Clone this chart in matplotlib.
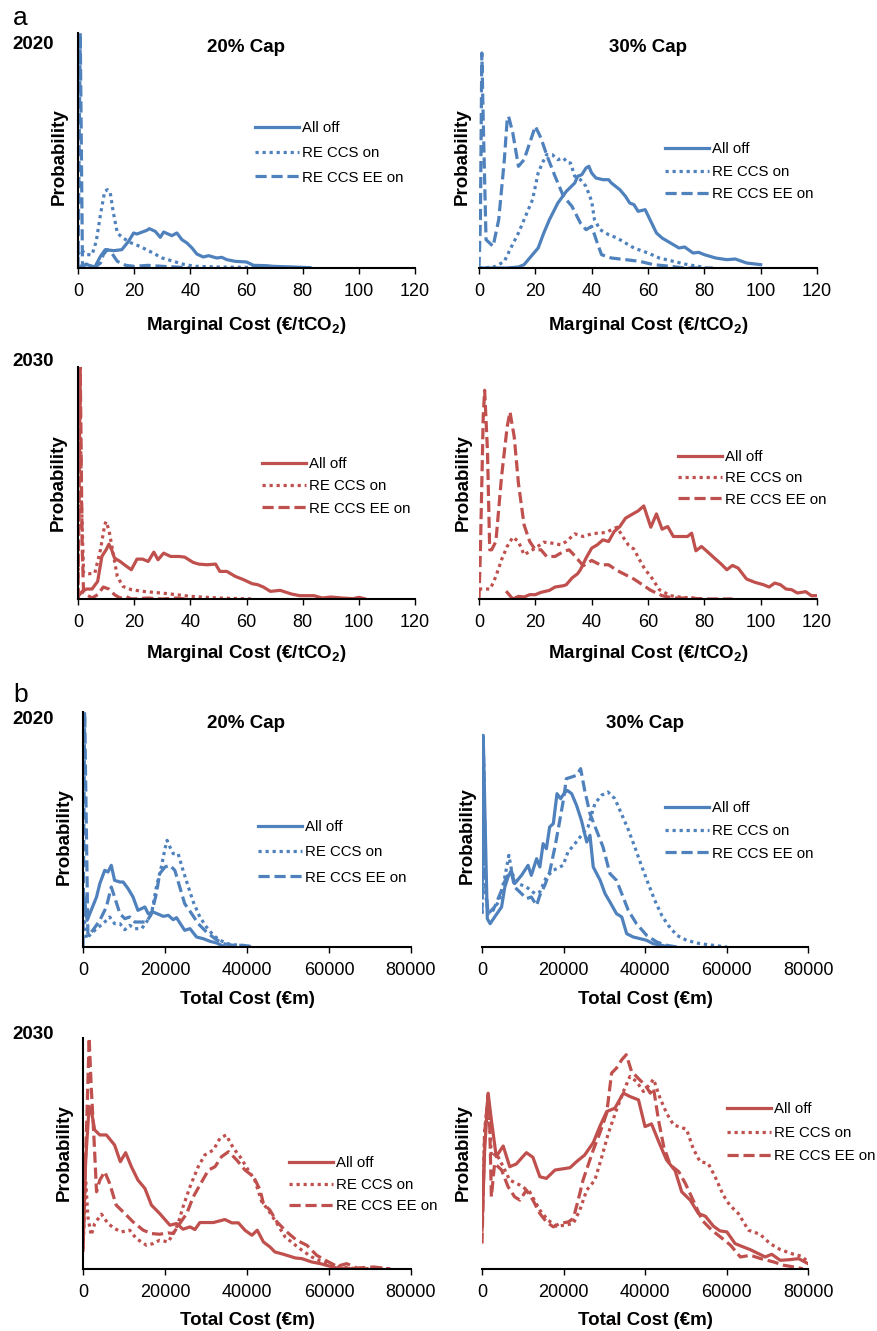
import matplotlib
matplotlib.use('Agg')
import matplotlib.pyplot as plt

plt.rcParams['font.family'] = 'Liberation Sans'
plt.rcParams['mathtext.fontset'] = 'custom'
plt.rcParams['mathtext.rm'] = 'Liberation Sans'
plt.rcParams['mathtext.bf'] = 'Liberation Sans:bold'

BLUE = '#4F81BD'
RED = '#C0504D'
series_names = ['All off', 'RE CCS on', 'RE CCS EE on']

# Probabilities are relative (the y axis has no scale in the source figure)

# ---- (a) Marginal cost, 2020, 20% cap ----
mc_2020_20_off_x = [0, 1.5, 3.2, 6, 8, 9.7, 12.7, 15.6, 18, 19.8, 21, 24.5, 25.4, 27.5, 29.3, 30.5, 33.4, 35.2,
                    37, 38.8, 40.6, 42.3, 44.6, 46.5, 49.4, 51.2, 53, 56, 60, 62.5, 67, 69.6, 76.7, 82.6]
mc_2020_20_off_p = [3, 7, 10, 3, 35, 55, 52, 55, 80, 105, 102, 113, 118, 110, 92, 108, 97, 105,
                    85, 75, 60, 42, 33, 37, 30, 32, 25, 20, 18, 8, 7, 5, 3, 1]
mc_2020_20_ccs_x = [0, 1, 3, 5, 6.5, 8, 9.5, 10.5, 11.5, 12.5, 14, 16, 19, 22, 26, 30, 34, 38, 42, 50, 60, 70]
mc_2020_20_ccs_p = [40, 55, 40, 40, 80, 160, 230, 235, 225, 170, 105, 90, 75, 65, 48, 30, 20, 10, 5, 3, 2, 0]
mc_2020_20_ee_x = [0, 0.8, 1.6, 3, 4, 6, 8, 9, 10.4, 12, 14, 17, 20, 25, 30, 35, 40]
mc_2020_20_ee_p = [0, 705, 5, 12, 8, 2, 15, 40, 55, 45, 20, 8, 5, 8, 5, 3, 0]

# ---- (a) Marginal cost, 2020, 30% cap ----
mc_2020_30_off_x = [0, 10, 14, 16, 18, 21, 23, 25, 28, 31, 34, 35, 36.5, 38, 39, 40, 41.5, 44, 46, 47, 50,
                    52, 53.5, 55, 56.5, 59, 61, 63, 65, 68, 71, 73, 76, 78, 80, 84, 88, 91, 95, 100]
mc_2020_30_off_p = [0, 0, 3, 10, 30, 60, 105, 145, 195, 230, 255, 275, 280, 300, 305, 285, 270, 265, 265, 255, 235,
                    215, 195, 190, 170, 175, 140, 105, 90, 75, 60, 63, 45, 47, 40, 30, 25, 27, 15, 10]
mc_2020_30_ccs_x = [0, 2, 6, 9, 11, 14, 17, 19, 21, 22.5, 24, 26, 28, 30, 31.5, 32.5, 34, 36, 38, 40, 41, 43,
                    46, 49, 52, 55, 60, 64, 69, 74, 78, 80]
mc_2020_30_ccs_p = [0, 0, 5, 20, 55, 105, 165, 205, 285, 315, 340, 340, 325, 330, 315, 315, 275, 265, 245, 200,
                    145, 115, 100, 90, 75, 60, 45, 30, 20, 10, 5, 0]
mc_2020_30_ee_x = [0, 0.5, 1, 1.5, 2.5, 5, 7, 9, 10, 10.5, 12, 14, 16, 18, 20, 22, 24, 27, 30, 33, 36, 38, 40,
                   42, 43.5, 47, 52, 57, 62, 68, 73, 83]
mc_2020_30_ee_p = [0, 145, 645, 445, 85, 65, 145, 325, 445, 455, 405, 305, 325, 375, 425, 390, 340, 275, 215,
                   185, 135, 115, 125, 75, 40, 30, 25, 20, 10, 5, 0, 0]

# ---- (a) Marginal cost, 2030, 20% cap ----
mc_2030_20_off_x = [0, 1.5, 3, 5, 7, 8.5, 10, 11, 12, 13, 15, 17, 19, 21, 23, 25, 27, 28.5, 30.5, 33, 36, 38,
                    41, 43, 46, 49, 50.5, 53, 56, 59, 62, 64, 66, 68.5, 72, 76, 79, 84, 87, 90, 94, 98, 100, 102]
mc_2030_20_off_p = [8, 23, 30, 30, 53, 128, 148, 165, 148, 123, 113, 100, 88, 120, 120, 113, 141, 118, 138, 128,
                    128, 126, 110, 105, 103, 105, 83, 83, 68, 58, 46, 43, 36, 23, 26, 15, 10, 10, 3, 6, 3, 1, 5, 1]
mc_2030_20_ccs_x = [0, 0.6, 1.2, 2, 4, 6, 8, 9.5, 10, 11, 12.5, 14, 16, 19, 23, 27, 32, 40, 50, 62]
mc_2030_20_ccs_p = [0, 698, 300, 78, 76, 78, 148, 223, 233, 208, 138, 68, 38, 28, 23, 20, 16, 8, 3, 0]
mc_2030_20_ee_x = [0, 0.8, 1.5, 2, 5, 7, 9, 11, 13, 15, 17, 19, 25, 30, 35, 38]
mc_2030_20_ee_p = [0, 698, 150, 18, 3, 13, 36, 30, 13, 3, 8, 0, 3, 0, 3, 0]

# ---- (a) Marginal cost, 2030, 30% cap ----
mc_2030_30_off_x = [10, 12, 14, 16, 18, 20, 22, 25, 27, 30, 31, 33, 35, 36, 38, 40, 42, 44, 46, 48, 50, 52, 54,
                    56.5, 58.5, 61, 63, 65, 67, 69, 72, 74, 75.5, 77, 79, 81, 84, 86, 88, 90, 92, 95, 98, 101,
                    103, 105, 107, 109, 111, 113, 116, 118, 120]
mc_2030_30_off_p = [20, 0, 8, 6, 13, 13, 20, 26, 36, 40, 43, 63, 76, 88, 123, 153, 163, 178, 173, 203, 218, 243,
                    253, 265, 280, 216, 256, 210, 218, 188, 188, 188, 198, 145, 158, 143, 120, 105, 88, 101, 93,
                    60, 50, 43, 36, 48, 43, 30, 28, 18, 22, 10, 10]
mc_2030_30_ccs_x = [0, 2, 4, 6, 8, 10, 12, 14, 16, 18, 20, 23, 26, 29, 31, 34, 37, 40, 42, 45, 47, 49, 51, 53,
                    55, 57, 59, 61, 64, 68, 72, 76, 80]
mc_2030_30_ccs_p = [30, 30, 30, 68, 118, 158, 186, 173, 133, 143, 153, 171, 168, 163, 173, 196, 188, 196, 198,
                    200, 208, 216, 188, 163, 150, 118, 88, 68, 28, 10, 5, 3, 0]
mc_2030_30_ee_x = [0, 0.5, 1.5, 2, 3, 3.8, 4.5, 6, 8, 10, 11, 12.5, 14, 16, 18, 20, 22, 24, 27, 30, 32, 34, 37,
                   40, 43, 46, 49, 52, 55, 58, 61, 65, 69, 74, 80, 90]
mc_2030_30_ee_p = [0, 148, 548, 628, 448, 148, 148, 173, 368, 518, 563, 488, 348, 223, 173, 148, 148, 128, 128,
                   143, 148, 130, 100, 116, 103, 103, 86, 73, 60, 43, 26, 10, 3, 3, 0, 0]

# ---- (b) Total cost (EUR m), 2020, 20% cap ----
tc_2020_20_off_x = [200, 1000, 3300, 4100, 5300, 6100, 6900, 7700, 9000, 9800, 11000, 12200, 13400, 15100, 15900,
                    17100, 19600, 20800, 22000, 22800, 24800, 26100, 27700, 29300, 31000, 32600, 33800, 34600]
tc_2020_20_off_p = [160, 80, 150, 190, 230, 225, 245, 200, 195, 195, 175, 150, 110, 120, 100,
                    105, 92, 95, 82, 88, 50, 55, 30, 25, 17, 12, 5, 0]
tc_2020_20_ccs_x = [200, 800, 1600, 3300, 4900, 6500, 7700, 9000, 10200, 11400, 12600, 14300, 15500, 16700,
                    17900, 19100, 19900, 20500, 21200, 22000, 23200, 24400, 25700, 26900, 28500, 30100, 31800,
                    33400, 35800, 38300, 41500]
tc_2020_20_ccs_p = [100, 25, 35, 55, 70, 90, 70, 70, 52, 65, 55, 55, 75, 100, 180, 240, 290, 320, 300, 280, 280,
                    230, 180, 135, 90, 60, 35, 20, 8, 5, 0]
tc_2020_20_ee_x = [0, 400, 1200, 2400, 4100, 5700, 6900, 7700, 9000, 10200, 11400, 12600, 14300, 15500, 16700,
                   17900, 18700, 20000, 21200, 22400, 23600, 24800, 26500, 28100, 30100, 32200, 34200, 36700,
                   39100, 41900]
tc_2020_20_ee_p = [0, 705, 35, 50, 80, 120, 180, 150, 100, 85, 90, 75, 75, 75, 100, 160, 220, 240, 245, 230,
                   180, 130, 100, 70, 45, 25, 10, 5, 5, 0]

# ---- (b) Total cost (EUR m), 2020, 30% cap ----
tc_2020_30_off_x = [0, 300, 900, 1300, 2000, 3100, 4800, 5600, 6400, 7200, 8000, 9700, 11300, 12100, 13400,
                    14200, 15000, 15800, 16600, 17500, 18400, 19300, 20100, 20900, 22000, 23200, 24400, 25700,
                    26500, 27300, 29000, 30200, 31400, 33000, 34300, 35500, 37100, 38800, 40400, 42000, 44100,
                    46100]
tc_2020_30_off_p = [150, 635, 300, 85, 70, 90, 120, 180, 210, 230, 190, 215, 245, 215, 265, 240, 310, 295, 360,
                    370, 460, 445, 460, 470, 460, 425, 380, 315, 335, 240, 200, 160, 135, 100, 90, 40, 30, 25,
                    20, 10, 5, 0]
tc_2020_30_ccs_x = [0, 300, 900, 1500, 2700, 4300, 5600, 6600, 7400, 8900, 10900, 13000, 14200, 15800, 17500,
                    19900, 21100, 22800, 24400, 26000, 27700, 29300, 30900, 32600, 34200, 35800, 37500, 39100,
                    40800, 42400, 44100, 45700, 47800, 50200, 53500, 56800, 60100]
tc_2020_30_ccs_p = [100, 630, 160, 100, 110, 140, 210, 275, 220, 190, 180, 160, 165, 210, 230, 245, 285, 310,
                    335, 360, 430, 455, 465, 445, 400, 355, 300, 245, 190, 140, 95, 65, 35, 20, 10, 5, 0]
tc_2020_30_ee_x = [0, 300, 900, 1500, 3100, 4800, 6000, 7200, 8000, 9700, 10900, 12100, 13400, 14200, 15400,
                   16600, 17900, 19100, 20100, 20700, 22000, 23200, 24200, 25200, 26500, 28100, 29700, 31400,
                   33000, 34300, 35900, 37900, 40400, 42900, 45400, 47800]
tc_2020_30_ee_p = [100, 625, 180, 100, 120, 170, 210, 225, 180, 160, 145, 150, 125, 155, 185, 225, 300, 380,
                   450, 505, 510, 515, 535, 470, 400, 350, 300, 220, 200, 160, 110, 70, 35, 15, 5, 0]

# ---- (b) Total cost (EUR m), 2030, 20% cap ----
tc_2030_20_off_x = [0, 650, 1500, 2000, 2850, 4100, 5700, 7700, 9100, 10400, 11800, 13400, 15100, 16700, 18700,
                    21200, 22800, 24400, 26100, 27300, 28500, 31800, 34600, 36300, 37900, 39500, 41200, 42500,
                    44000, 45600, 46800, 48900, 51800, 53400, 55800, 57900, 60300, 61900, 65200]
tc_2030_20_off_p = [56, 326, 486, 476, 416, 401, 401, 371, 321, 348, 306, 266, 241, 191, 166, 131, 136, 119,
                    126, 118, 139, 139, 148, 138, 138, 116, 101, 116, 81, 66, 51, 44, 33, 31, 21, 16, 8, 3, 1]
tc_2030_20_ccs_x = [0, 650, 1200, 2000, 2850, 4500, 6100, 7700, 9400, 11400, 13000, 15500, 17100, 18700, 20800,
                    22000, 23200, 24400, 26100, 28100, 29700, 31800, 33400, 34900, 36700, 38300, 40300, 41900,
                    43600, 45200, 47300, 49300, 51300, 53400, 55800, 57900, 60300, 62700, 66000, 69200, 71700,
                    75000]
tc_2030_20_ccs_p = [60, 266, 156, 101, 136, 164, 136, 121, 111, 116, 91, 71, 76, 86, 81, 106, 136, 186, 246,
                    306, 341, 356, 391, 401, 361, 336, 296, 266, 201, 176, 136, 96, 76, 56, 36, 24, 16, 6, 2, 1,
                    4, 0]
tc_2030_20_ee_x = [0, 1000, 1500, 2000, 2700, 3300, 4100, 5300, 6500, 8100, 10200, 12200, 14700, 16700, 18700,
                   20800, 22000, 23600, 25300, 26900, 28500, 30600, 32200, 33800, 35500, 37500, 39500, 41600,
                   43200, 44000, 45600, 47300, 49700, 52100, 54600, 57000, 59900, 61900, 64300, 66800, 70900,
                   75000]
tc_2030_20_ee_p = [76, 476, 691, 546, 386, 231, 266, 291, 256, 191, 166, 141, 116, 106, 104, 108, 106, 136, 166,
                   216, 251, 296, 306, 336, 351, 326, 296, 276, 236, 196, 176, 141, 111, 86, 71, 41, 21, 8, 16,
                   3, 6, 0]

# ---- (b) Total cost (EUR m), 2030, 30% cap ----
tc_2030_30_off_x = [0, 650, 1500, 2300, 3500, 5200, 6800, 8400, 10900, 12500, 14200, 15800, 17900, 21600, 23200,
                    25200, 27300, 28900, 30600, 32600, 34700, 36300, 38400, 40000, 41600, 43700, 45300, 47400,
                    49000, 51100, 53100, 54800, 56800, 58400, 60100, 62100, 63700, 65800, 67500, 69500, 71100,
                    73200, 75600, 77700, 80000]
tc_2030_30_off_p = [116, 356, 526, 446, 336, 368, 306, 314, 348, 334, 276, 271, 296, 303, 321, 341, 378, 426,
                    471, 481, 526, 516, 506, 426, 434, 371, 326, 294, 231, 206, 166, 158, 128, 114, 111, 76, 68,
                    58, 48, 36, 44, 26, 28, 31, 16]
tc_2030_30_ccs_x = [0, 650, 1500, 2300, 3500, 5200, 6800, 9300, 11700, 14200, 16200, 18300, 20300, 22400, 24000,
                    25700, 27700, 29300, 31000, 33000, 34700, 36300, 37900, 39600, 41100, 42100, 43700, 45300,
                    47000, 50200, 51800, 53500, 55500, 57200, 59200, 60800, 62900, 65400, 68200, 70700, 73200,
                    76500, 78500, 80000]
tc_2030_30_ccs_p = [136, 416, 516, 336, 346, 306, 266, 251, 231, 176, 146, 128, 131, 136, 176, 236, 266, 331,
                    406, 476, 531, 576, 561, 531, 551, 568, 511, 466, 431, 418, 361, 321, 316, 276, 221, 191,
                    166, 116, 104, 76, 58, 44, 38, 21]
tc_2030_30_ee_x = [0, 650, 1500, 1900, 2300, 3100, 4800, 6400, 8000, 9300, 10900, 12500, 14200, 15800, 17500,
                   19100, 21200, 22400, 23600, 24800, 27300, 28900, 30600, 31800, 33000, 34300, 35400, 36700,
                   38700, 40000, 41300, 42100, 43300, 44600, 46200, 48300, 49900, 52000, 54000, 56400, 58500,
                   61000, 63400, 65900, 68400, 71600, 74100, 76600, 78700]
tc_2030_30_ee_p = [76, 406, 521, 426, 216, 316, 296, 246, 216, 206, 236, 206, 166, 141, 126, 136, 141, 151, 206,
                   266, 356, 406, 466, 586, 601, 626, 641, 591, 566, 551, 526, 541, 446, 366, 311, 291, 256, 201,
                   146, 116, 96, 71, 36, 41, 31, 21, 11, 6, 1]

mc_ticks = [0, 20, 40, 60, 80, 100, 120]
tc_ticks = [0, 20000, 40000, 60000, 80000]

W, H = 877, 1331
fig = plt.figure(figsize=(W / 100, H / 100), dpi=100)


def px_axes(l, t, r, b):
    return fig.add_axes([l / W, 1 - b / H, (r - l) / W, (b - t) / H])


def draw(ax, curves, color, xmax, xticks, ytop, left_spine, leg):
    styles = ['-', (0, (1, 1.2)), (0, (3.5, 1.5))]
    for (x, p), ls, name in zip(curves, styles, series_names):
        ax.plot(x, p, color=color, lw=2.3, ls=ls, label=name,
                solid_joinstyle='round', dash_joinstyle='round')
    ax.set_xlim(0, xmax)
    ax.set_ylim(0, ytop)
    ax.set_xticks(xticks)
    ax.set_xticklabels([str(t) for t in xticks])
    ax.set_yticks([])
    ax.spines['top'].set_visible(False)
    ax.spines['right'].set_visible(False)
    ax.spines['left'].set_visible(left_spine)
    ax.spines['left'].set_linewidth(1.5)
    ax.spines['bottom'].set_linewidth(1.5)
    ax.tick_params(axis='x', direction='out', length=4.5, width=1, pad=6.5, labelsize=13)
    ax.patch.set_alpha(0)
    lx, ly, sp = leg
    ax.legend(loc='upper left', bbox_to_anchor=(lx / W, 1 - (ly - 5) / H),
              bbox_transform=fig.transFigure, frameon=False, fontsize=10.8,
              borderpad=0, borderaxespad=0, handlelength=2.9, handletextpad=0.25,
              labelspacing=(sp - 14.25) / 15)


def ylabel(x, y):
    fig.text(x / W, 1 - y / H, 'Probability', rotation=90, ha='center', va='center',
             fontsize=13.5, fontweight='bold')


def label(x, y, s, size=13.5, weight='bold', ha='center'):
    fig.text(x / W, 1 - y / H, s, ha=ha, va='baseline', fontsize=size, fontweight=weight)


mc_label = r'Marginal Cost (€/tCO$_\mathbf{2}$)'
tc_label = 'Total Cost (€m)'

# panel a
ax = px_axes(78, 33, 415, 268)
draw(ax, [(mc_2020_20_off_x, mc_2020_20_off_p), (mc_2020_20_ccs_x, mc_2020_20_ccs_p),
          (mc_2020_20_ee_x, mc_2020_20_ee_p)], BLUE, 120, mc_ticks, 705, True, (255, 126, 25))
ax = px_axes(479, 33, 817, 268)
draw(ax, [(mc_2020_30_off_x, mc_2020_30_off_p), (mc_2020_30_ccs_x, mc_2020_30_ccs_p),
          (mc_2020_30_ee_x, mc_2020_30_ee_p)], BLUE, 120, mc_ticks, 705, False, (665, 147, 23))
ax = px_axes(78, 367, 415, 599)
draw(ax, [(mc_2030_20_off_x, mc_2030_20_off_p), (mc_2030_20_ccs_x, mc_2030_20_ccs_p),
          (mc_2030_20_ee_x, mc_2030_20_ee_p)], RED, 120, mc_ticks, 698, True, (262, 462, 22.5))
ax = px_axes(479, 367, 817, 599)
draw(ax, [(mc_2030_30_off_x, mc_2030_30_off_p), (mc_2030_30_ccs_x, mc_2030_30_ccs_p),
          (mc_2030_30_ee_x, mc_2030_30_ee_p)], RED, 120, mc_ticks, 698, False, (678, 455, 21.5))

# panel b
ax = px_axes(83, 712, 411, 947)
draw(ax, [(tc_2020_20_off_x, tc_2020_20_off_p), (tc_2020_20_ccs_x, tc_2020_20_ccs_p),
          (tc_2020_20_ee_x, tc_2020_20_ee_p)], BLUE, 80000, tc_ticks, 705, True, (258, 825, 25.5))
ax = px_axes(482, 712, 808, 947)
draw(ax, [(tc_2020_30_off_x, tc_2020_30_off_p), (tc_2020_30_ccs_x, tc_2020_30_ccs_p),
          (tc_2020_30_ee_x, tc_2020_30_ee_p)], BLUE, 80000, tc_ticks, 705, False, (665, 806, 23))
ax = px_axes(83, 1038, 411, 1269)
draw(ax, [(tc_2030_20_off_x, tc_2030_20_off_p), (tc_2030_20_ccs_x, tc_2030_20_ccs_p),
          (tc_2030_20_ee_x, tc_2030_20_ee_p)], RED, 80000, tc_ticks, 691, True, (289, 1161, 22))
ax = px_axes(482, 1038, 808, 1269)
draw(ax, [(tc_2030_30_off_x, tc_2030_30_off_p), (tc_2030_30_ccs_x, tc_2030_30_ccs_p),
          (tc_2030_30_ee_x, tc_2030_30_ee_p)], RED, 80000, tc_ticks, 691, False, (727, 1107, 24))

# labels
label(13, 25, 'a', size=19, weight='normal', ha='left')
label(13, 702, 'b', size=19, weight='normal', ha='left')
label(12, 49, '2020', ha='left')
label(12, 366, '2030', ha='left')
label(12, 724, '2020', ha='left')
label(12, 1039, '2030', ha='left')
label(246, 52, '20% Cap')
label(648, 52, '30% Cap')
label(246, 728, '20% Cap')
label(645, 728, '30% Cap')
label(246, 330, mc_label)
label(648, 330, mc_label)
label(246, 658, mc_label)
label(648, 658, mc_label)
label(247, 1004, tc_label)
label(645, 1004, tc_label)
label(247, 1325, tc_label)
label(645, 1325, tc_label)

for x, y in [(59, 157), (462, 157), (58, 483), (463, 483), (64, 837), (467, 836), (64, 1153), (463, 1153)]:
    ylabel(x, y)

fig.savefig('out.png', dpi=100)
